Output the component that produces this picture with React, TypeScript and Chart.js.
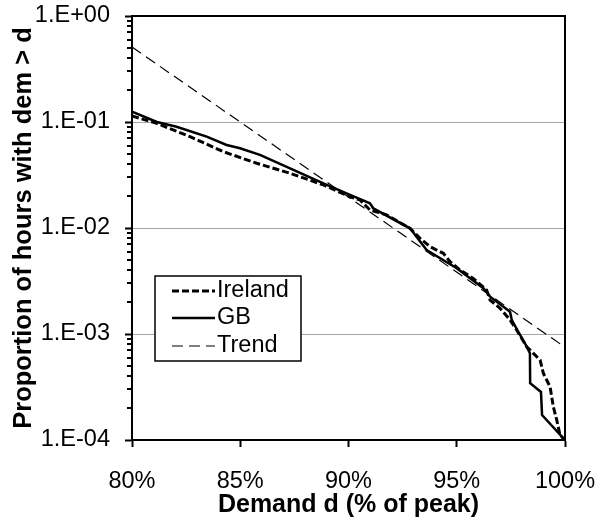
import React, { useEffect, useRef } from 'react';
import { Chart, registerables } from 'chart.js';

Chart.register(...registerables);

// ---- Data ----
const irelandDemand = [80, 81.14, 82.68, 84.22, 85.76, 87.3, 88.84, 90.07, 90.53, 90.99, 91.76, 92.84, 93.3, 93.76, 94.38, 94.69, 95.15, 95.76, 96.38, 96.54, 97.0, 97.46, 97.77, 98.23, 98.54, 98.85, 99.0, 99.31, 99.46, 99.62, 99.77, 100];
const irelandProp = [0.114, 0.0972, 0.0727, 0.0525, 0.0408, 0.0328, 0.0255, 0.0197, 0.0184, 0.0148, 0.0133, 0.00993, 0.008, 0.00667, 0.00577, 0.00481, 0.00402, 0.00335, 0.0026, 0.00209, 0.00175, 0.00136, 0.00109, 0.000759, 0.000657, 0.000569, 0.000426, 0.000318, 0.000206, 0.000154, 0.000111, 0.0001];

const gbDemand = [80, 81.15, 82.06, 83.45, 84.37, 84.99, 85.91, 87.3, 88.84, 90.07, 90.99, 91.15, 92.84, 93.61, 95.0, 96.23, 96.54, 97.46, 97.54, 97.84, 98.15, 98.38, 98.39, 98.89, 98.94, 100];
const gbProp = [0.125, 0.1, 0.0903, 0.0727, 0.0607, 0.0565, 0.0489, 0.0366, 0.0264, 0.0205, 0.0171, 0.0153, 0.00993, 0.0062, 0.00417, 0.0027, 0.00225, 0.00162, 0.00136, 0.00105, 0.000817, 0.000658, 0.000343, 0.000284, 0.000172, 0.0001];

const trendDemand = [80, 100];
const trendProp = [0.51, 0.00075];

const seriesLabels = ['Ireland', 'GB', 'Trend'];
const xTickValues = [80, 85, 90, 95, 100];
const yDecades = [-4, -3, -2, -1, 0];

const FONT = "'Liberation Sans', Arial, sans-serif";

const toPoints = (xs: number[], ys: number[]) => xs.map((x, i) => ({ x, y: ys[i] }));

const isMajor = (v: number) => {
  const e = Math.round(Math.log10(v));
  return Math.abs(v - Math.pow(10, e)) / Math.pow(10, e) < 1e-6;
};

const fmtDecade = (v: number) => {
  const e = Math.round(Math.log10(v));
  return '1.E' + (e < 0 ? '-' : '+') + String(Math.abs(e)).padStart(2, '0');
};

const decorPlugin = {
  id: 'decor',
  afterDraw(chart: any) {
    const { ctx, chartArea } = chart;
    const yScale = chart.scales.y;
    ctx.save();
    // minor ticks
    ctx.strokeStyle = '#000';
    ctx.lineWidth = 2;
    yScale.ticks.forEach((t: any) => {
      if (!isMajor(t.value)) {
        const py = Math.round(yScale.getPixelForValue(t.value));
        ctx.beginPath();
        ctx.moveTo(chartArea.left - 5, py);
        ctx.lineTo(chartArea.left, py);
        ctx.stroke();
      }
    });
    // plot frame
    ctx.lineWidth = 2;
    ctx.strokeRect(chartArea.left, chartArea.top, chartArea.right - chartArea.left, chartArea.bottom - chartArea.top);

    // legend box
    const bx = chartArea.left + 23;
    const by = chartArea.top + 260;
    const bw = 146;
    const bh = 85;
    ctx.fillStyle = '#fff';
    ctx.fillRect(bx, by, bw, bh);
    ctx.lineWidth = 1.5;
    ctx.strokeStyle = '#000';
    ctx.strokeRect(bx, by, bw, bh);
    const rows = [15, 42, 70];
    chart.data.datasets.forEach((ds: any, i: number) => {
      const yy = by + rows[i];
      ctx.save();
      ctx.strokeStyle = ds.borderColor;
      ctx.lineWidth = ds.borderWidth;
      ctx.setLineDash(ds.borderDash || []);
      ctx.beginPath();
      ctx.moveTo(bx + 17, yy);
      ctx.lineTo(bx + 60, yy);
      ctx.stroke();
      ctx.restore();
      ctx.fillStyle = '#000';
      ctx.font = `23.5px ${FONT}`;
      ctx.textBaseline = 'middle';
      ctx.textAlign = 'left';
      ctx.fillText(ds.label, bx + 62, yy);
    });
    ctx.restore();
  },
};

export default function App() {
  const ref = useRef<HTMLCanvasElement>(null);

  useEffect(() => {
    const canvas = ref.current;
    if (!canvas) return;
    const yTicks: number[] = [];
    yDecades.forEach((e) => {
      for (let m = 1; m <= 9; m++) {
        const v = m * Math.pow(10, e);
        if (v <= 1 + 1e-9) yTicks.push(v);
      }
    });

    const chart = new Chart(canvas, {
      type: 'line',
      data: {
        datasets: [
          {
            label: seriesLabels[0],
            data: toPoints(irelandDemand, irelandProp),
            borderColor: '#000',
            borderWidth: 3,
            borderDash: [7, 3],
            pointRadius: 0,
            tension: 0,
            fill: false,
          },
          {
            label: seriesLabels[1],
            data: toPoints(gbDemand, gbProp),
            borderColor: '#000',
            borderWidth: 2.5,
            pointRadius: 0,
            tension: 0,
            fill: false,
          },
          {
            label: seriesLabels[2],
            data: toPoints(trendDemand, trendProp),
            borderColor: '#000',
            borderWidth: 1.2,
            borderDash: [11, 6],
            pointRadius: 0,
            tension: 0,
            fill: false,
          },
        ],
      },
      options: {
        responsive: false,
        animation: false,
        devicePixelRatio: 1,
        layout: { padding: { left: 0, right: 47, top: 16, bottom: 0 } },
        plugins: {
          legend: { display: false },
          tooltip: { enabled: false },
        },
        scales: {
          x: {
            type: 'linear',
            position: 'bottom',
            min: 80,
            max: 100,
            afterBuildTicks: (scale: any) => {
              scale.ticks = xTickValues.map((v) => ({ value: v }));
            },
            afterFit: (scale: any) => {
              scale.height = 83;
              scale.paddingLeft = 0;
              scale.paddingRight = 0;
            },
            ticks: {
              autoSkip: false,
              maxRotation: 0,
              color: '#000',
              font: { family: FONT, size: 23.5 },
              padding: 20,
              callback: (v: any) => `${v}%`,
            },
            grid: {
              drawOnChartArea: false,
              drawTicks: true,
              tickLength: 7,
              tickWidth: 2,
              tickColor: '#000',
            },
            border: { display: true, color: '#000', width: 2 },
            title: {
              display: true,
              text: 'Demand d (% of peak)',
              color: '#000',
              font: { family: FONT, size: 25, weight: 'bold', lineHeight: 1 },
              padding: { top: 0, bottom: 5 },
            },
          },
          y: {
            type: 'logarithmic',
            min: 0.0001,
            max: 1,
            afterBuildTicks: (scale: any) => {
              scale.ticks = yTicks.map((v) => ({ value: v, major: isMajor(v) }));
            },
            afterFit: (scale: any) => {
              scale.width = 132;
              scale.paddingTop = 0;
              scale.paddingBottom = 0;
            },
            ticks: {
              autoSkip: false,
              color: '#000',
              font: { family: FONT, size: 23.5 },
              padding: 15,
              callback: (v: any) => (isMajor(Number(v)) ? fmtDecade(Number(v)) : ''),
            },
            grid: {
              drawTicks: true,
              tickLength: 7,
              tickWidth: 2,
              lineWidth: 1,
              color: (c: any) => {
                const v = c.tick ? c.tick.value : 0;
                if (!v || !isMajor(v)) return 'rgba(0,0,0,0)';
                if (v >= 0.999 || v <= 0.00010001) return 'rgba(0,0,0,0)';
                return '#a6a6a6';
              },
              tickColor: (c: any) => {
                const v = c.tick ? c.tick.value : 0;
                return v && isMajor(v) ? '#000' : 'rgba(0,0,0,0)';
              },
            },
            border: { display: true, color: '#000', width: 2 },
            title: {
              display: true,
              text: 'Proportion of hours with dem > d',
              color: '#000',
              font: { family: FONT, size: 25.5, weight: 'bold', lineHeight: 1 },
              padding: { top: 11, bottom: 0 },
            },
          },
        },
      },
      plugins: [decorPlugin],
    } as any);

    return () => chart.destroy();
  }, []);

  return (
    <div style={{ position: 'absolute', left: 0, top: 0, width: 612, height: 523, background: '#fff' }}>
      <canvas ref={ref} width={612} height={523} style={{ display: 'block' }} />
    </div>
  );
}
